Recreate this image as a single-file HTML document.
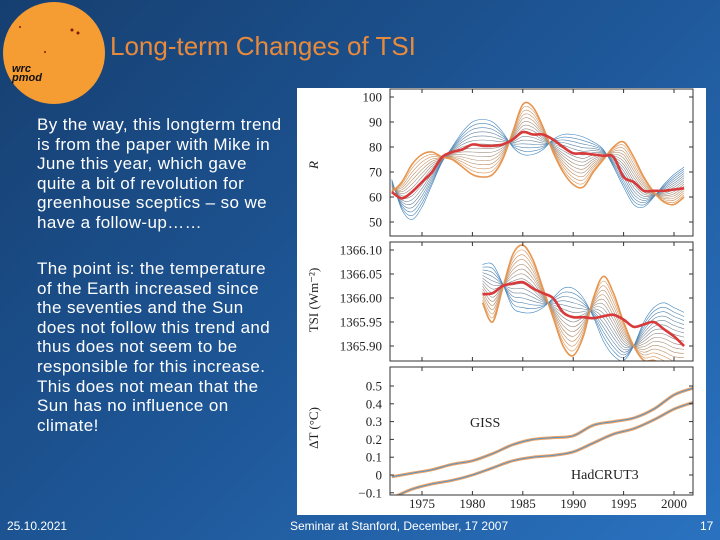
<!DOCTYPE html>
<html><head><meta charset="utf-8"><style>
body{margin:0;width:720px;height:540px;overflow:hidden;font-family:"Liberation Sans",sans-serif;}
#bg{position:absolute;left:0;top:0;width:720px;height:540px;background:linear-gradient(135deg,#163f70 0%,#1d5493 45%,#2a72c0 100%);}
.t{position:absolute;color:#fff;white-space:nowrap}
</style></head><body>
<div id="bg"></div>
<svg style="position:absolute;left:0;top:0" width="110" height="110">
<circle cx="54" cy="53" r="51" fill="#f59c33"/>
<circle cx="72" cy="30" r="1.5" fill="#7a2000"/><circle cx="78" cy="33" r="1.5" fill="#7a2000"/><circle cx="20" cy="27" r="1" fill="#7a2000"/><circle cx="45" cy="52" r="1" fill="#7a2000"/>
<text x="12" y="72" font-family="Liberation Sans" font-style="italic" font-weight="bold" font-size="11" fill="#111">wrc</text>
<text x="12" y="81" font-family="Liberation Sans" font-style="italic" font-weight="bold" font-size="11" fill="#111">pmod</text>
</svg>
<div class="t" style="left:110px;top:31px;font-size:26px;color:#e88a3c">Long-term Changes of TSI</div>
<div class="t" style="left:37px;top:115px;font-size:17px;letter-spacing:0.4px;line-height:19.6px">By the way, this longterm trend<br>is from the paper with Mike in<br>June this year, which gave<br>quite a bit of revolution for<br>greenhouse sceptics – so we<br>have a follow-up……</div>
<div class="t" style="left:37px;top:259px;font-size:17px;letter-spacing:0.4px;line-height:19.6px">The point is: the temperature<br>of the Earth increased since<br>the seventies and the Sun<br>does not follow this trend and<br>thus does not seem to be<br>responsible for this increase.<br>This does not mean that the<br>Sun has no influence on<br>climate!</div>
<div class="t" style="left:7px;top:519px;font-size:12px">25.10.2021</div>
<div class="t" style="left:290px;top:519px;font-size:12px">Seminar at Stanford, December, 17 2007</div>
<div class="t" style="left:700px;top:519px;font-size:12px">17</div>
<svg id="ch" style="position:absolute;left:0;top:0" width="720" height="540"></svg>
<script>
const yearsR=[1972,1973,1974,1975,1976,1977,1978,1979,1980,1981,1982,1983,1984,1985,1986,1987,1988,1989,1990,1991,1992,1993,1994,1995,1996,1997,1998,1999,2000,2001];
const redR=[62,59.5,62,66,70,76,78,79,81,80.5,80.5,81,83,86,85,85,83,80,77.5,77.5,77,76.5,76,68,66,62.5,62.5,62.5,63,63.5];
const orangeR=[62,66,73,77,78,76,75,72,69,68,69,75,86,97,96,88,78,70,65,64,70,75,80,82,76,68,62,58,57,60];
const blueR=[67,55,51,56,65,74,80,86,90,91,90,86,80,77,77,79,83,85,85,84,82,79,72,64,57,56,60,65,69,72];
const yearsS=[1981,1982,1983,1984,1985,1986,1987,1988,1989,1990,1991,1992,1993,1994,1995,1996,1997,1998,1999,2000,2001];
const redS=[1366.008,1366.01,1366.025,1366.03,1366.033,1366.02,1366.01,1366.0,1365.97,1365.96,1365.96,1365.958,1365.962,1365.965,1365.955,1365.94,1365.945,1365.95,1365.935,1365.92,1365.9];
const orangeS=[1365.99,1365.95,1366.02,1366.09,1366.11,1366.08,1366.02,1365.96,1365.90,1365.88,1365.92,1366.0,1366.045,1366.01,1365.95,1365.90,1365.87,1365.87,1365.86,1365.85,1365.85];
const blueS=[1366.07,1366.07,1366.03,1365.98,1365.97,1365.97,1365.98,1366.0,1366.02,1366.02,1366.0,1365.96,1365.91,1365.88,1365.87,1365.90,1365.95,1365.98,1365.99,1365.98,1365.97];
const yearsT=[1972,1974,1976,1978,1980,1982,1984,1986,1988,1990,1992,1994,1996,1998,2000,2002];
const giss=[-0.01,0.01,0.03,0.06,0.08,0.12,0.17,0.2,0.21,0.22,0.28,0.3,0.32,0.37,0.45,0.49];
const hadcrut=[-0.13,-0.08,-0.05,-0.03,0.0,0.04,0.08,0.1,0.11,0.13,0.18,0.23,0.26,0.31,0.37,0.41];
const ticksR=[50,60,70,80,90,100];
const ticksS=["1365.90","1365.95","1366.00","1366.05","1366.10"];
const ticksT=["-0.1","0","0.1","0.2","0.3","0.4","0.5"];
const ticksX=[1975,1980,1985,1990,1995,2000];

const svg=document.getElementById('ch');const NS='http://www.w3.org/2000/svg';
function mk(t,a,p){const e=document.createElementNS(NS,t);for(const k in a)e.setAttribute(k,a[k]);(p||svg).appendChild(e);return e;}
const X0=390,X1=693;
const sx=y=>422+(y-1975)*10.08;
const P=[{top:89,bot:236,y:v=>97+(100-v)*2.5},{top:242,bot:361,y:v=>250+(1366.10-v)*480},{top:367,bot:495,y:v=>475-v*178}];
const white=mk('rect',{x:297,y:88,width:409,height:427,fill:'#fff'});


P.forEach((p,i)=>{const c=mk('clipPath',{id:'c'+i});mk('rect',{x:X0,y:p.top,width:X1-X0,height:p.bot-p.top},c);});
function path(xs,vs,f){const pts=xs.map((x,i)=>[sx(x),f(vs[i])]);let d='M'+pts[0][0].toFixed(1)+','+pts[0][1].toFixed(1);
for(let i=0;i<pts.length-1;i++){const p0=pts[i-1]||pts[i],p1=pts[i],p2=pts[i+1],p3=pts[i+2]||p2;
d+='C'+(p1[0]+(p2[0]-p0[0])/6).toFixed(1)+','+(p1[1]+(p2[1]-p0[1])/6).toFixed(1)+' '+(p2[0]-(p3[0]-p1[0])/6).toFixed(1)+','+(p2[1]-(p3[1]-p1[1])/6).toFixed(1)+' '+p2[0].toFixed(1)+','+p2[1].toFixed(1);}return d;}
function mix(a,b,t){return a.map((v,i)=>v*(1-t)+b[i]*t);}
function family(xs,bl,or,p,i,name){const g=mk('g',{'clip-path':'url(#c'+i+')'});


const n=14;for(let k=0;k<=n;k++){const t=k/n;const r=Math.round(60+(230-60)*t),gg=Math.round(130+(150-130)*t),b=Math.round(190+(80-190)*t);
mk('path',{d:path(xs,mix(bl,or,t),p.y),fill:'none',stroke:`rgb(${r},${gg},${b})`,'stroke-width':k==n?1.6:0.6},g);}return g;}
family(yearsR,blueR,orangeR,P[0],0,'r-series-family');
family(yearsS,blueS,orangeS,P[1],1,'tsi-series-family');
const rl=mk('path',{d:path(yearsR,redR,P[0].y),fill:'none',stroke:'#d8393a','stroke-width':2.6,'clip-path':'url(#c0)'});


const sl=mk('path',{d:path(yearsS,redS,P[1].y),fill:'none',stroke:'#d8393a','stroke-width':2.6,'clip-path':'url(#c1)'});


[[giss,'giss-line'],[hadcrut,'hadcrut3-line']].forEach(([d,nm])=>{
const g=mk('g',{'clip-path':'url(#c2)'});


mk('path',{d:path(yearsT,d,P[2].y),fill:'none',stroke:'#eda266','stroke-width':3},g);
mk('path',{d:path(yearsT,d,P[2].y),fill:'none',stroke:'#5a96c4','stroke-width':1},g);});
P.forEach((p,i)=>{const f=mk('rect',{x:X0,y:p.top,width:X1-X0,height:p.bot-p.top,fill:'none',stroke:'#333','stroke-width':1});


ticksX.forEach(t=>{mk('line',{x1:sx(t),x2:sx(t),y1:p.bot,y2:p.bot-4,stroke:'#333'});mk('line',{x1:sx(t),x2:sx(t),y1:p.top,y2:p.top+4,stroke:'#333'});});});
function ylab(ticks,p){ticks.forEach(t=>{const v=parseFloat(t),y=p.y(v);mk('line',{x1:X0,x2:X0+4,y1:y,y2:y,stroke:'#333'});mk('line',{x1:X1,x2:X1-4,y1:y,y2:y,stroke:'#333'});
const e=mk('text',{x:382,y:y+4.5,'text-anchor':'end','font-family':'Liberation Serif','font-size':13,fill:'#222'});e.textContent=String(t).replace('-','\u2212');

});}
ylab(ticksR,P[0]);ylab(ticksS,P[1]);ylab(ticksT,P[2]);
ticksX.forEach(t=>{const e=mk('text',{x:sx(t),y:508,'text-anchor':'middle','font-family':'Liberation Serif','font-size':13,fill:'#222'});e.textContent=t;

});
function yt(txt,x,y,nm,it){const e=mk('text',{x:x,y:y,'text-anchor':'middle','font-family':'Liberation Serif','font-size':13,fill:'#222','font-style':it?'italic':'normal',transform:`rotate(-90 ${x} ${y})`});e.textContent=txt;

}
yt('R',318,165,'r-axis-title',true);yt('TSI (Wm\u207B\u00B2)',318,300,'tsi-axis-title');yt('\u0394T (\u00B0C)',318,428,'dt-axis-title');
[['GISS',470,427,'giss-label'],['HadCRUT3',571,479,'hadcrut3-label']].forEach(a=>{const e=mk('text',{x:a[1],y:a[2],'font-family':'Liberation Serif','font-size':14,fill:'#222'});e.textContent=a[0];

});
</script>
</body></html>
